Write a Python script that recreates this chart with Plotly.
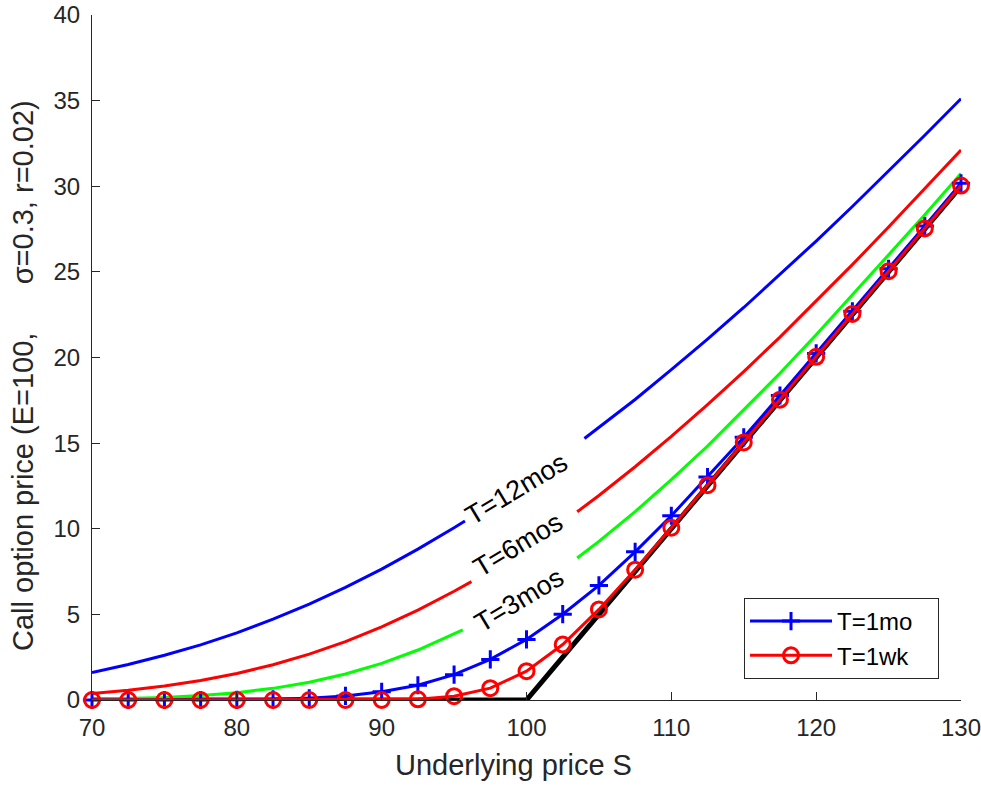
import plotly.graph_objects as go

# ---- data ----
S_grid = [70, 72.5, 75, 77.5, 80, 82.5, 85, 87.5, 90, 92.5, 95, 97.5, 100,
          102.5, 105, 107.5, 110, 112.5, 115, 117.5, 120, 122.5, 125, 127.5, 130]

payoff = [0, 0, 0, 0, 0, 0, 0, 0, 0, 0, 0, 0, 0,
          2.5, 5, 7.5, 10, 12.5, 15, 17.5, 20, 22.5, 25, 27.5, 30]

S_12mos = [70, 72.5, 75, 77.5, 80, 82.5, 85, 87.5, 90, 92.5, 95, 95.75, None,
           104, 105, 107.5, 110, 112.5, 115, 117.5, 120, 122.5, 125, 127.5, 130]
C_12mos = [1.61, 2.07, 2.61, 3.22, 3.92, 4.72, 5.60, 6.58, 7.64, 8.81, 10.06, 10.45, None,
           15.27, 15.91, 17.55, 19.29, 21.07, 22.92, 24.84, 26.80, 28.82, 30.88, 32.98, 35.11]

S_6mos = [70, 72.5, 75, 77.5, 80, 82.5, 85, 87.5, 90, 92.5, 95, 96.2, None,
          103.5, 105, 107.5, 110, 112.5, 115, 117.5, 120, 122.5, 125, 127.5, 130]
C_6mos = [0.38, 0.57, 0.82, 1.14, 1.55, 2.06, 2.68, 3.41, 4.27, 5.25, 6.35, 6.91, None,
          10.99, 11.94, 13.62, 15.39, 17.25, 19.18, 21.19, 23.28, 25.42, 27.62, 29.85, 32.12]

S_3mos = [70, 72.5, 75, 77.5, 80, 82.5, 85, 87.5, 90, 92.5, 95, 95.6, None,
          103.5, 105, 107.5, 110, 112.5, 115, 117.5, 120, 122.5, 125, 127.5, 130]
C_3mos = [0.04, 0.08, 0.15, 0.26, 0.43, 0.68, 1.04, 1.52, 2.14, 2.92, 3.86, 4.09, None,
          8.29, 9.26, 11.00, 12.87, 14.83, 16.94, 19.08, 21.33, 23.65, 26.00, 28.33, 30.75]

C_1mo = [0.00, 0.00, 0.00, 0.00, 0.01, 0.04, 0.10, 0.24, 0.48, 0.86, 1.48, 2.37, 3.54,
         5.01, 6.69, 8.65, 10.76, 13.02, 15.34, 17.78, 20.24, 22.70, 25.18, 27.68, 30.17]

C_1wk = [0, 0, 0, 0, 0, 0, 0, 0, 0, 0.04, 0.22, 0.69, 1.68,
         3.24, 5.29, 7.61, 10.06, 12.54, 15.04, 17.54, 20.04, 22.54, 25.04, 27.54, 30.04]

x_ticks = [70, 80, 90, 100, 110, 120, 130]
y_ticks = [0, 5, 10, 15, 20, 25, 30, 35, 40]

legend_names = ["T=1mo", "T=1wk"]
curve_labels = ["T=12mos", "T=6mos", "T=3mos"]
label_x = [99.3, 99.4, 99.5]
label_y = [12.3, 9.05, 5.84]

FONT = "Liberation Sans, Arial, Helvetica, sans-serif"
AXC = "#262626"
PAD = "\u00a0" * 3  # right padding inside the legend box

fig = go.Figure()

fig.add_trace(go.Scatter(x=S_grid, y=payoff, mode="lines",
                         line=dict(color="black", width=5),
                         showlegend=False, cliponaxis=False))
fig.add_trace(go.Scatter(x=S_12mos, y=C_12mos, mode="lines",
                         line=dict(color="#0000ff", width=3),
                         showlegend=False, cliponaxis=False, connectgaps=False))
fig.add_trace(go.Scatter(x=S_6mos, y=C_6mos, mode="lines",
                         line=dict(color="#ff0000", width=3),
                         showlegend=False, cliponaxis=False, connectgaps=False))
fig.add_trace(go.Scatter(x=S_3mos, y=C_3mos, mode="lines",
                         line=dict(color="#00ff00", width=3),
                         showlegend=False, cliponaxis=False, connectgaps=False))
fig.add_trace(go.Scatter(x=S_grid, y=C_1mo, mode="lines+markers", name=legend_names[0] + PAD,
                         line=dict(color="#0000ff", width=3),
                         marker=dict(symbol="cross-thin", size=13, color="#0000ff",
                                     line=dict(width=3, color="#0000ff")),
                         cliponaxis=False))
fig.add_trace(go.Scatter(x=S_grid, y=C_1wk, mode="lines+markers", name=legend_names[1] + PAD,
                         line=dict(color="#ff0000", width=3),
                         marker=dict(symbol="circle-open", size=15, color="#ff0000",
                                     line=dict(width=3, color="#ff0000")),
                         cliponaxis=False))

annotations = []
for t, xx, yy in zip(curve_labels, label_x, label_y):
    annotations.append(dict(x=xx, y=yy, xref="x", yref="y", text=t, showarrow=False,
                            textangle=-31, font=dict(family=FONT, size=27, color="black"),
                            xanchor="center", yanchor="middle"))

annotations.append(dict(x=0.4845, y=0, xref="paper", yref="paper",
                        text="Underlying price S", showarrow=False,
                        xanchor="center", yanchor="middle", yshift=-65,
                        font=dict(family=FONT, size=29, color=AXC)))
annotations.append(dict(x=0, y=0.473, xref="paper", yref="paper",
                        text="Call option price (E=100," + "\u00a0" * 6 + "\u03c3=0.3, r=0.02)",
                        showarrow=False, textangle=-90,
                        xanchor="center", yanchor="middle", xshift=-69,
                        font=dict(family=FONT, size=29, color=AXC)))

fig.update_layout(
    width=981, height=786,
    margin=dict(l=92, r=20, t=15, b=86, autoexpand=False),
    paper_bgcolor="white", plot_bgcolor="white",
    font=dict(family=FONT, color=AXC),
    annotations=annotations,
    legend=dict(x=0.9747, y=0.0307, xanchor="right", yanchor="bottom",
                bordercolor=AXC, borderwidth=1, bgcolor="white",
                font=dict(family=FONT, size=24, color="black"),
                itemwidth=82, tracegroupgap=0),
)
fig.update_xaxes(range=[70, 130], tickvals=x_ticks, ticks="inside", ticklen=8,
                 tickcolor=AXC, showline=True, linecolor=AXC, linewidth=1,
                 showgrid=False, zeroline=False, automargin=False,
                 ticklabeloverflow="allow",
                 tickfont=dict(family=FONT, size=24, color=AXC), ticklabelstandoff=6)
fig.update_yaxes(range=[0, 40], tickvals=y_ticks, ticks="inside", ticklen=8,
                 tickcolor=AXC, showline=True, linecolor=AXC, linewidth=1,
                 showgrid=False, zeroline=False, automargin=False,
                 ticklabeloverflow="allow",
                 tickfont=dict(family=FONT, size=24, color=AXC), ticklabelstandoff=6)

# remove the browser's default 8px body margin so the figure fills the window
fig.write_html("out.html", config={"displayModeBar": False},
               post_script="document.body.style.margin='0';document.body.style.padding='0';"
                           "document.body.style.overflow='hidden';")
